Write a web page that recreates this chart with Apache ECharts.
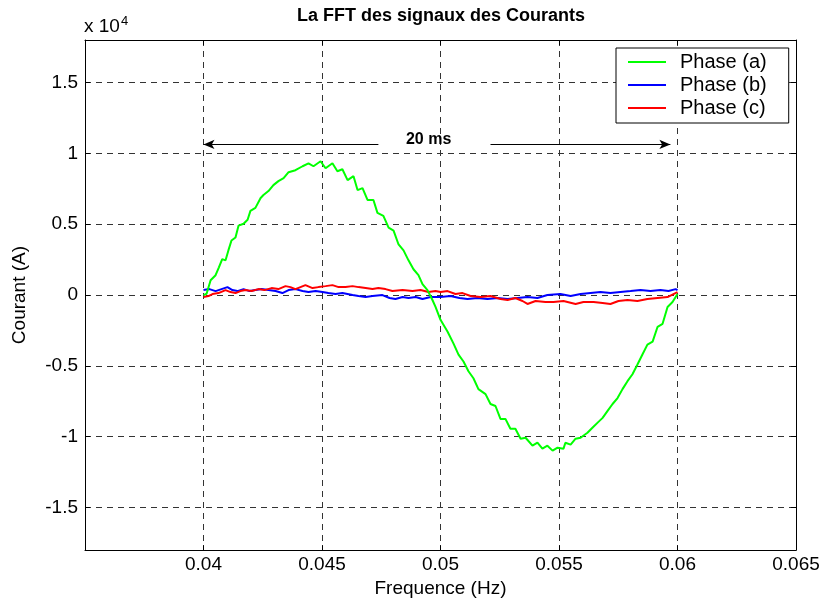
<!DOCTYPE html>
<html>
<head>
<meta charset="utf-8">
<script src="https://cdn.jsdelivr.net/npm/echarts@6/dist/echarts.min.js"></script>
<style>
  html, body { margin: 0; padding: 0; background: #fff; overflow: hidden; }
  #main { width: 823px; height: 603px; }
</style>
</head>
<body>
<div id="main"></div>
<script>
// valeurs (temps en s, courant en A)
const phaseATime = [0.04000, 0.04013, 0.04030, 0.04051, 0.04065, 0.04079, 0.04093, 0.04105, 0.04118, 0.04135,
  0.04148, 0.04169, 0.04186, 0.04198, 0.04219, 0.04241, 0.04253, 0.04274, 0.04295, 0.04316,
  0.04338, 0.04359, 0.04388, 0.04418, 0.04443, 0.04464, 0.04494, 0.04515, 0.04544, 0.04565,
  0.04586, 0.04608, 0.04633, 0.04650, 0.04671, 0.04692, 0.04717, 0.04734, 0.04759, 0.04781,
  0.04802, 0.04823, 0.04844, 0.04865, 0.04886, 0.04907, 0.04924, 0.04945, 0.04966, 0.04979,
  0.05000, 0.05030, 0.05055, 0.05076, 0.05097, 0.05118, 0.05139, 0.05160, 0.05190, 0.05211,
  0.05232, 0.05253, 0.05274, 0.05295, 0.05316, 0.05338, 0.05359, 0.05388, 0.05409, 0.05430,
  0.05451, 0.05473, 0.05494, 0.05519, 0.05527, 0.05549, 0.05570, 0.05591, 0.05620, 0.05641,
  0.05662, 0.05684, 0.05705, 0.05726, 0.05747, 0.05768, 0.05789, 0.05810, 0.05831, 0.05852,
  0.05873, 0.05895, 0.05916, 0.05937, 0.05958, 0.05979, 0.06000];
const phaseAValues = [0, 90, 1050, 1400, 1960, 2540, 2450, 3150, 3850, 4060,
  4900, 5030, 5310, 5940, 6150, 6850, 7060, 7340, 7760, 8040,
  8250, 8670, 8810, 9090, 9300, 9090, 9440, 8950, 9300, 8740,
  8880, 8110, 8390, 7410, 7550, 6710, 6710, 5800, 5590, 4760,
  4550, 3570, 3150, 2450, 1820, 1400, 770, 350, -350, -840,
  -1750, -2590, -3430, -4200, -4690, -5380, -5870, -6640, -6990, -7690,
  -7830, -8740, -8740, -9440, -9440, -10140, -10070, -10630, -10420, -10840,
  -10630, -10980, -10770, -10840, -10420, -10560, -10140, -10070, -9720, -9370,
  -9020, -8670, -8180, -7690, -7270, -6640, -6080, -5590, -4900, -4200,
  -3500, -3290, -2240, -2030, -840, -490, 70];

const phaseBTime = [0.04000, 0.04025, 0.04051, 0.04076, 0.04101, 0.04122, 0.04143, 0.04169, 0.04194, 0.04219,
  0.04245, 0.04274, 0.04304, 0.04333, 0.04359, 0.04388, 0.04418, 0.04443, 0.04473, 0.04502,
  0.04527, 0.04557, 0.04586, 0.04629, 0.04654, 0.04684, 0.04713, 0.04755, 0.04785, 0.04810,
  0.04840, 0.04865, 0.04895, 0.04924, 0.04958, 0.05000, 0.05042, 0.05080, 0.05114, 0.05156,
  0.05198, 0.05241, 0.05283, 0.05325, 0.05367, 0.05409, 0.05451, 0.05506, 0.05549, 0.05591,
  0.05633, 0.05675, 0.05717, 0.05759, 0.05802, 0.05844, 0.05886, 0.05928, 0.05962, 0.05992, 0.06000];
const phaseBValues = [350, 420, 280, 420, 560, 350, 280, 420, 280, 350,
  420, 350, 280, 140, 350, 420, 280, 210, 280, 210,
  140, 70, 140, 0, -70, -140, -70, 0, -210, -280,
  -140, -210, -140, -280, -140, -140, -70, -210, -280, -210,
  -280, -210, -280, -210, -140, -210, 0, 70, -70, 70,
  140, 210, 140, 210, 280, 350, 280, 350, 280, 420, 350];

const phaseCTime = [0.04000, 0.04021, 0.04038, 0.04063, 0.04093, 0.04114, 0.04135, 0.04156, 0.04177, 0.04203,
  0.04232, 0.04257, 0.04287, 0.04316, 0.04346, 0.04367, 0.04388, 0.04409, 0.04430, 0.04460,
  0.04485, 0.04515, 0.04544, 0.04570, 0.04599, 0.04629, 0.04654, 0.04684, 0.04713, 0.04738,
  0.04768, 0.04797, 0.04840, 0.04882, 0.04916, 0.04949, 0.04979, 0.05000, 0.05030, 0.05063,
  0.05093, 0.05127, 0.05169, 0.05211, 0.05253, 0.05283, 0.05316, 0.05346, 0.05367, 0.05401,
  0.05443, 0.05477, 0.05519, 0.05570, 0.05603, 0.05646, 0.05684, 0.05717, 0.05751, 0.05789,
  0.05831, 0.05873, 0.05916, 0.05958, 0.05983, 0.06000];
const phaseCValues = [-140, -70, 70, 140, 350, 210, 140, 280, 350, 280,
  420, 350, 490, 420, 630, 560, 420, 560, 700, 490,
  560, 630, 700, 560, 560, 630, 560, 490, 420, 490,
  420, 280, 350, 280, 350, 210, 280, 210, 280, 70,
  140, -70, -140, -70, -280, -350, -210, -420, -630, -420,
  -490, -490, -420, -630, -490, -490, -560, -630, -420, -350,
  -420, -280, -210, -140, 70, 210];

const seriesNames = ['Phase (a)', 'Phase (b)', 'Phase (c)'];
const seriesColors = ['#00ff00', '#0000ff', '#ff0000'];
// fleche "20 ms" : [debut, fin] en temps, hauteur en A
const arrowLeft = [0.04738, 0.04000];
const arrowRight = [0.05211, 0.05970];
const arrowLevel = 10630;
const arrowLabelPos = [0.0495, 10980];

const FONT = 'Liberation Sans, Arial, sans-serif';

const zip = (xs, ys) => xs.map((x, i) => [x, ys[i]]);

const myChart = echarts.init(document.getElementById('main'));

const dashed = { show: true, lineStyle: { color: '#333', type: [6, 5], width: 1 } };
const blackLine = { show: true, onZero: false, lineStyle: { color: '#000', width: 1 } };
const inTick = { show: true, inside: true, length: 5, lineStyle: { color: '#000' } };

myChart.setOption({
  animation: false,
  backgroundColor: '#fff',
  grid: { left: 85, top: 40, width: 711, height: 516 },
  graphic: [
    {
      type: 'text', x: 441, y: 7,
      style: { text: 'La FFT des signaux des Courants', textAlign: 'center',
        font: 'bold 18px ' + FONT, fill: '#000' }
    },
    {
      type: 'text', x: 84, y: 15,
      style: {
        text: '{a|x 10}{b|4}',
        rich: {
          a: { fontFamily: FONT, fontSize: 19, fill: '#000', verticalAlign: 'bottom' },
          b: { fontFamily: FONT, fontSize: 13, fill: '#000', verticalAlign: 'top', padding: [0, 0, 8, 1] }
        }
      }
    }
  ],
  legend: {
    data: seriesNames,
    orient: 'vertical',
    left: 616, top: 48,
    padding: [4, 22, 5, 12],
    itemGap: 3,
    itemWidth: 38,
    itemHeight: 2,
    icon: 'rect',
    backgroundColor: '#fff',
    borderColor: '#000',
    borderWidth: 1,
    borderRadius: 0,
    textStyle: { fontFamily: FONT, fontSize: 20, color: '#000', lineHeight: 20, padding: [0, 0, 0, 9] }
  },
  xAxis: [
    {
      type: 'value', min: 0.035, max: 0.065, interval: 0.005,
      name: 'Frequence (Hz)', nameLocation: 'middle', nameGap: 24,
      nameTextStyle: { fontFamily: FONT, fontSize: 19, color: '#000' },
      axisLine: blackLine, axisTick: inTick, splitLine: dashed,
      axisLabel: {
        showMinLabel: false, margin: 5,
        fontFamily: FONT, fontSize: 19, color: '#000',
        formatter: v => String(+v.toFixed(4))
      }
    },
    {
      type: 'value', position: 'top', min: 0.035, max: 0.065, interval: 0.005,
      axisLine: blackLine, axisTick: inTick, splitLine: { show: false }, axisLabel: { show: false }
    }
  ],
  yAxis: [
    {
      type: 'value', min: -18000, max: 18000, splitNumber: 7,
      name: 'Courant (A)', nameLocation: 'middle', nameGap: 56,
      nameTextStyle: { fontFamily: FONT, fontSize: 19, color: '#000' },
      axisLine: blackLine, axisTick: inTick, splitLine: dashed,
      axisLabel: {
        showMinLabel: false, showMaxLabel: false, margin: 7,
        fontFamily: FONT, fontSize: 19, color: '#000',
        formatter: v => (Math.abs(v) >= 18000 ? '' : String(+(v / 1e4).toFixed(2)))
      }
    },
    {
      type: 'value', position: 'right', min: -18000, max: 18000, splitNumber: 7,
      axisLine: blackLine, axisTick: inTick, splitLine: { show: false }, axisLabel: { show: false }
    }
  ],
  series: [
    {
      name: seriesNames[0], type: 'line', z: 4, showSymbol: false,
      data: zip(phaseATime, phaseAValues),
      itemStyle: { color: seriesColors[0] }, lineStyle: { color: seriesColors[0], width: 2 },
      markLine: {
        silent: true, symbol: ['none', 'arrow'], symbolSize: [7, 11],
        lineStyle: { color: '#000', width: 1, type: 'solid' },
        label: { show: false },
        data: [
          [{ coord: [arrowLeft[0], arrowLevel] }, { coord: [arrowLeft[1], arrowLevel] }],
          [{ coord: [arrowRight[0], arrowLevel] }, { coord: [arrowRight[1], arrowLevel] }]
        ]
      },
      markPoint: {
        silent: true, symbol: 'circle', symbolSize: 0,
        label: { show: true, formatter: '20 ms', fontFamily: FONT, fontWeight: 'bold', fontSize: 16, color: '#000' },
        data: [{ coord: arrowLabelPos }]
      }
    },
    {
      name: seriesNames[1], type: 'line', z: 2, showSymbol: false,
      data: zip(phaseBTime, phaseBValues),
      itemStyle: { color: seriesColors[1] }, lineStyle: { color: seriesColors[1], width: 2 }
    },
    {
      name: seriesNames[2], type: 'line', z: 3, showSymbol: false,
      data: zip(phaseCTime, phaseCValues),
      itemStyle: { color: seriesColors[2] }, lineStyle: { color: seriesColors[2], width: 2 }
    }
  ]
});
</script>
</body>
</html>
